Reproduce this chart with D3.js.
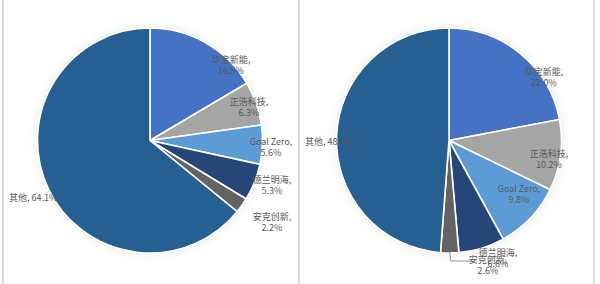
<!DOCTYPE html>
<html><head><meta charset="utf-8">
<script src="https://cdn.jsdelivr.net/npm/d3@7"></script>
<style>body{margin:0;background:#fff}svg{display:block}</style>
</head><body>
<svg id="c" width="600" height="284"></svg>
<script>
const categories = ["华宝新能", "正浩科技", "Goal Zero", "德兰明海", "安克创新", "其他"];
const leftValues = [16.5, 6.3, 5.6, 5.3, 2.2, 64.1];
const rightValues = [22.0, 10.2, 9.8, 6.6, 2.6, 48.8];
const colors = ["#4472C4", "#A5A5A5", "#5B9BD5", "#264478", "#636363", "#255E91"];

// label anchors (offset from pie centre) — layout only
const leftLabelPos = [[81,-77.5],[99,-35.5],[121,4.5],[122,42.5],[122,79.5],[-141,60.5]];
const rightLabelPos = [[95,-65.5],[100,16.5],[70,51.5],[49,115.5],[39,122.5],[-144,4.5]];

const svg = d3.select("#c");
const defs = svg.append("defs");
const f = defs.append("filter").attr("id","glow").attr("x","-20%").attr("y","-20%").attr("width","140%").attr("height","140%");
f.append("feGaussianBlur").attr("in","SourceAlpha").attr("stdDeviation",4).attr("result","b");
f.append("feFlood").attr("flood-color","#c9d6c0").attr("flood-opacity",0.5);
f.append("feComposite").attr("in2","b").attr("operator","in").attr("result","s");
const m = f.append("feMerge");
m.append("feMergeNode").attr("in","s");
m.append("feMergeNode").attr("in","SourceGraphic");

// panel borders
[3, 299, 594].forEach(x => svg.append("line").attr("x1",x).attr("x2",x).attr("y1",0).attr("y2",284)
  .attr("stroke","#d9d9d9").attr("stroke-width",2));

function drawPie(cx, cy, r, values, labelPos, leader) {
  const g = svg.append("g").attr("transform",`translate(${cx},${cy})`);
  const pie = d3.pie().sort(null).value(d => d)(values);
  const arc = d3.arc().innerRadius(0).outerRadius(r);
  const pg = g.append("g").attr("filter","url(#glow)");
  pg.selectAll("path").data(pie).join("path")
    .attr("d", arc).attr("fill",(d,i)=>colors[i])
    .attr("stroke","#fff").attr("stroke-width",1.6).attr("stroke-linejoin","round");
  if (leader) {
    const d = pie[leader.i];
    const a = (d.startAngle + d.endAngle)/2;
    const p0 = [Math.sin(a)*r*0.99, -Math.cos(a)*r*0.99];
    g.append("polyline").attr("points",[p0,[p0[0]+1,leader.y],[leader.x,leader.y]].map(p=>p.join(",")).join(" "))
      .attr("fill","none").attr("stroke","#7f7f7f").attr("stroke-width",0.8);
  }
  const lg = g.append("g").attr("font-family","'Noto Sans CJK SC', sans-serif").attr("font-size",9).attr("fill","#595959");
  pie.forEach((d,i) => {
    const [x,y] = labelPos[i];
    const pct = d3.format(".1f")(values[i]) + "%";
    if (i === 5) {
      lg.append("text").attr("x",x).attr("y",y).attr("text-anchor","start").text(categories[i] + ", " + pct);
    } else {
      lg.append("text").attr("x",x).attr("y",y).attr("text-anchor","middle").text(categories[i] + ",");
      lg.append("text").attr("x",x).attr("y",y+10.5).attr("text-anchor","middle").text(pct);
    }
  });
}

drawPie(150, 140.5, 112.5, leftValues, leftLabelPos, null);
drawPie(449, 140.5, 112.5, rightValues, rightLabelPos, {i:4, y:120.5, x:22});
</script>
</body></html>
